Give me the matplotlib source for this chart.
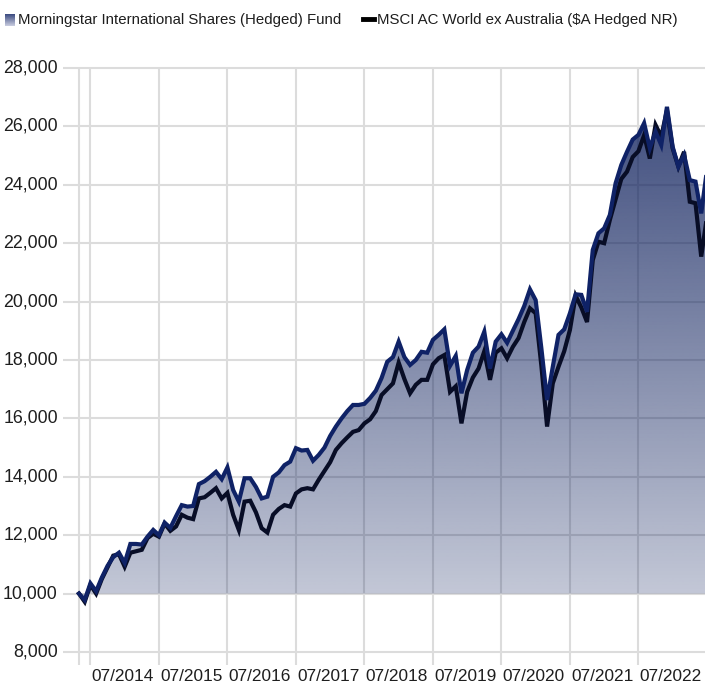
import numpy as np
import matplotlib
matplotlib.use("Agg")
import matplotlib.pyplot as plt
from matplotlib.patches import PathPatch
from matplotlib.transforms import blended_transform_factory
from matplotlib.lines import Line2D
from matplotlib.colors import LinearSegmentedColormap

# ---- data (monthly, starting 05/2014) ----
fund_name = "Morningstar International Shares (Hedged) Fund"
bench_name = "MSCI AC World ex Australia ($A Hedged NR)"

fund_values = [
    10000, 9780, 10350, 10080, 10550, 10950, 11250, 11400, 11050, 11700,
    11700, 11680, 11950, 12180, 12000, 12430, 12250, 12650, 13030, 12980,
    13000, 13750, 13850, 14000, 14170, 13920, 14320, 13550, 13150, 13950,
    13950, 13650, 13260, 13320, 14000, 14150, 14400, 14520, 14980, 14900,
    14920, 14550, 14750, 15000, 15400, 15720, 16000, 16250, 16460, 16460,
    16500, 16700, 16950, 17380, 17940, 18100, 18630, 18100, 17830, 18000,
    18280, 18250, 18690, 18860, 19050, 17800, 18140, 16860, 17660, 18250,
    18460, 18970, 17710, 18630, 18880, 18590, 19000, 19400, 19850, 20420,
    20050, 18400, 16630, 17770, 18860, 19050, 19600, 20250, 20230, 19650,
    21770, 22340, 22510, 22970, 24050, 24680, 25130, 25550, 25710, 26110,
    25250, 25820, 25360, 26670, 25300, 24620, 25020, 24160, 24110, 23020,
    24500,
]

bench_values = [
    10000, 9720, 10300, 10000, 10500, 10900, 11300, 11350, 10920, 11400,
    11450, 11500, 11900, 12050, 11950, 12400, 12150, 12300, 12700, 12600,
    12550, 13260, 13300, 13450, 13610, 13260, 13450, 12700, 12180, 13150,
    13180, 12780, 12240, 12090, 12700, 12900, 13030, 12980, 13430, 13570,
    13610, 13570, 13900, 14200, 14500, 14920, 15150, 15350, 15540, 15600,
    15830, 15970, 16250, 16800, 17000, 17200, 17910, 17350, 16860, 17150,
    17320, 17320, 17850, 18060, 18170, 16910, 17100, 15830, 16910, 17400,
    17710, 18300, 17320, 18250, 18400, 18060, 18450, 18750, 19300, 19770,
    19600, 17800, 15720, 17200, 17770, 18300, 19030, 20200, 19800, 19300,
    21420, 22050, 22000, 22800, 23500, 24200, 24450, 24950, 25150, 25700,
    24900, 26050, 25650, 26560, 25250, 24620, 25130, 23420, 23370, 21540,
    22900,
]

x_tick_labels = ["07/2014", "07/2015", "07/2016", "07/2017", "07/2018",
                 "07/2019", "07/2020", "07/2021", "07/2022"]
x_tick_months = [2, 14, 26, 38, 50, 62, 74, 86, 98]   # months after 05/2014
y_ticks = [8000, 10000, 12000, 14000, 16000, 18000, 20000, 22000, 24000, 26000, 28000]
baseline = 10000

# ---- style ----
plt.rcParams['font.family'] = ['Liberation Sans', 'DejaVu Sans']
FUND_COLOR = "#0f2266"
BENCH_COLOR = "#080d26"
GRID_COLOR = "#dcdcdc"
TEXT_COLOR = "#1e1e1e"

fig = plt.figure(figsize=(7.05, 6.83), dpi=100)
W, H = 705, 683
ax_left, ax_right, ax_top, ax_bottom = 63, 705, 68, 665
ax = fig.add_axes([ax_left / W, 1 - ax_bottom / H,
                   (ax_right - ax_left) / W, (ax_bottom - ax_top) / H])

x = np.arange(len(fund_values))
fund = np.array(fund_values, dtype=float)
bench = np.array(bench_values, dtype=float)

px_per_month = (638 - 90) / 96.0
xmin = -(79 - ax_left) / px_per_month
xmax = (ax_right - 79) / px_per_month
ymax = 28000
px_per_unit = (652 - 68) / 20000.0
ymin = 8000 - (ax_bottom - 652) / px_per_unit
ax.set_xlim(xmin, xmax)
ax.set_ylim(ymin, ymax)

for s in ax.spines.values():
    s.set_visible(False)
ax.set_xticks([])
ax.set_yticks([])

# grid
for yv in y_ticks:
    ax.plot([xmin, xmax], [yv, yv], color=GRID_COLOR, lw=1.5, zorder=0,
            clip_on=False, solid_capstyle='butt')
for xv in [0] + x_tick_months:
    ax.plot([xv, xv], [ymin, ymax], color=GRID_COLOR, lw=1.5, zorder=0,
            solid_capstyle='butt')

# gradient area between baseline and fund line
poly = ax.fill_between(x, baseline, fund, facecolor='none', edgecolor='none')
path = poly.get_paths()[0]
patch = PathPatch(path, transform=ax.transData, facecolor='none', edgecolor='none')
ax.add_patch(patch)

n = 400
yv = np.linspace(ymin, ymax, n)
alpha = 0.25 + (yv - baseline) / 16000.0 * 0.52
alpha = np.clip(alpha, 0.2, 0.9)
rgba = np.zeros((n, 1, 4))
rgba[..., 0] = 13 / 255
rgba[..., 1] = 31 / 255
rgba[..., 2] = 92 / 255
rgba[:, 0, 3] = alpha
im = ax.imshow(rgba, extent=(xmin, xmax, ymin, ymax), origin='lower',
               aspect='auto', interpolation='bilinear', zorder=1)
im.set_clip_path(patch)

# lines
ax.plot(x, bench, color=BENCH_COLOR, lw=3.0, zorder=2, solid_joinstyle='miter')
ax.plot(x, fund, color=FUND_COLOR, lw=3.0, zorder=3, solid_joinstyle='miter')

# y labels
ytrans = blended_transform_factory(ax.transAxes, ax.transData)
for yt in y_ticks:
    ax.text(-0.008, yt, f"{yt:,}", transform=ytrans,
            ha='right', va='center', fontsize=12.8, color=TEXT_COLOR)

# x labels
trans = blended_transform_factory(ax.transData, ax.transAxes)
for m, lab in zip(x_tick_months, x_tick_labels):
    ax.text(m + 0.25, -0.006, lab, transform=trans, ha='left', va='top',
            fontsize=12.4, color=TEXT_COLOR)

# legend
lg = fig.add_axes([5 / W, 1 - 26 / H, 10 / W, 12 / H])
grad = np.linspace(0, 1, 50).reshape(-1, 1)
cm = LinearSegmentedColormap.from_list("lg", ["#3b4a80", "#c9cde0"])
lg.imshow(grad, cmap=cm, aspect='auto', origin='upper')
lg.axis('off')
fig.text(18 / W, 1 - 20 / H, fund_name, ha='left', va='center', fontsize=10.8, color=TEXT_COLOR)
fig.add_artist(Line2D([363 / W, 374 / W], [1 - 19 / H, 1 - 19 / H], color='black', lw=3.5))
fig.text(377 / W, 1 - 20 / H, bench_name, ha='left', va='center', fontsize=10.8, color=TEXT_COLOR)

fig.savefig("out.png", dpi=100)
